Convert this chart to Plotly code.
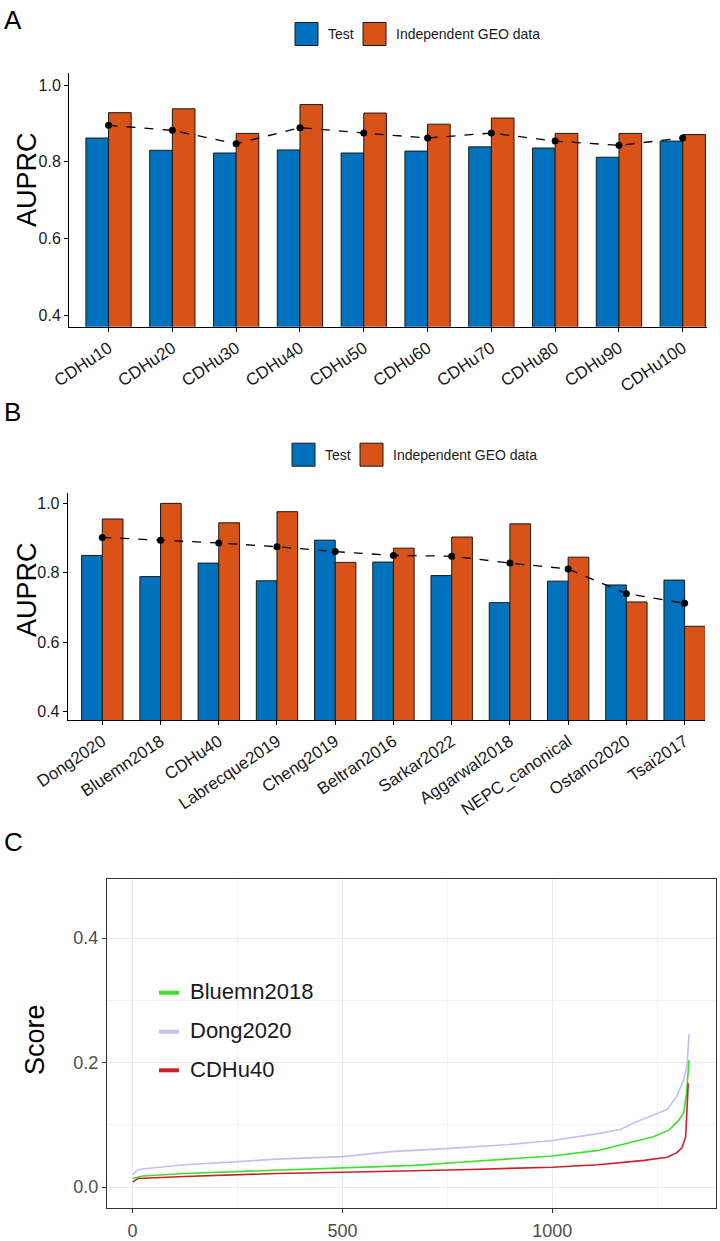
import plotly.graph_objects as go

W, H = 720, 1241

# ---- panel A data ----
cdhu_labels = ["CDHu10", "CDHu20", "CDHu30", "CDHu40", "CDHu50",
               "CDHu60", "CDHu70", "CDHu80", "CDHu90", "CDHu100"]
cdhu_test = [0.862, 0.830, 0.823, 0.831, 0.823, 0.828, 0.839, 0.836, 0.812, 0.854]
cdhu_geo = [0.928, 0.938, 0.874, 0.949, 0.927, 0.898, 0.914, 0.874, 0.874, 0.871]
cdhu_mean = [0.895, 0.882, 0.847, 0.889, 0.875, 0.862, 0.875, 0.854, 0.843, 0.862]

# ---- panel B data ----
sig_labels = ["Dong2020", "Bluemn2018", "CDHu40", "Labrecque2019", "Cheng2019",
              "Beltran2016", "Sarkar2022", "Aggarwal2018", "NEPC_canonical",
              "Ostano2020", "Tsai2017"]
sig_test = [0.850, 0.789, 0.828, 0.777, 0.894, 0.831, 0.792, 0.714, 0.776, 0.765, 0.779]
sig_geo = [0.955, 1.000, 0.944, 0.976, 0.830, 0.871, 0.903, 0.941, 0.845, 0.716, 0.646]
sig_mean = [0.902, 0.894, 0.886, 0.875, 0.861, 0.850, 0.848, 0.828, 0.811, 0.740, 0.712]

# ---- panel C data (sorted scores) ----
dong_rank = [0, 13, 35, 123, 254, 342, 500, 616, 726, 890, 1000, 1110, 1164,
             1197, 1241, 1274, 1296, 1313, 1321, 1326]
dong_score = [0.020, 0.028, 0.030, 0.036, 0.041, 0.045, 0.049, 0.057, 0.061, 0.068,
              0.075, 0.086, 0.093, 0.104, 0.116, 0.125, 0.145, 0.172, 0.194, 0.246]
bluemn_rank = [0, 24, 123, 342, 500, 671, 781, 890, 1000, 1110, 1197, 1241, 1279,
               1302, 1313, 1320, 1326]
bluemn_score = [0.014, 0.018, 0.022, 0.027, 0.030, 0.035, 0.040, 0.045, 0.050, 0.059,
                0.073, 0.081, 0.092, 0.108, 0.119, 0.151, 0.204]
cdhu40_rank = [0, 13, 123, 342, 500, 671, 781, 1000, 1110, 1219, 1274, 1296, 1309,
               1318, 1324]
cdhu40_score = [0.008, 0.014, 0.017, 0.022, 0.024, 0.026, 0.028, 0.032, 0.036, 0.043,
                0.048, 0.055, 0.063, 0.081, 0.167]

BLUE = "#0072BD"
ORANGE = "#D95319"
GREEN = "#3CE02A"
LAVENDER = "#C2C0F0"
RED = "#CF1F2C"
FONT = "Liberation Sans, Arial, sans-serif"


def px(x):
    return x / W


def py(y):
    return 1 - y / H


fig = go.Figure()

# panel A bars + mean line
fig.add_trace(go.Bar(x=cdhu_labels, y=cdhu_test, name="Test", marker_color=BLUE,
                     marker_line=dict(color="#1a1a1a", width=1), showlegend=False,
                     xaxis="x", yaxis="y"))
fig.add_trace(go.Bar(x=cdhu_labels, y=cdhu_geo, name="Independent GEO data",
                     marker_color=ORANGE, marker_line=dict(color="#1a1a1a", width=1),
                     showlegend=False, xaxis="x", yaxis="y"))
fig.add_trace(go.Scatter(x=cdhu_labels, y=cdhu_mean, mode="lines+markers",
                         line=dict(color="black", width=1.3, dash="dash"),
                         marker=dict(color="black", size=7), showlegend=False,
                         xaxis="x", yaxis="y"))

# panel B
fig.add_trace(go.Bar(x=sig_labels, y=sig_test, name="Test", marker_color=BLUE,
                     marker_line=dict(color="#1a1a1a", width=1), showlegend=False,
                     xaxis="x2", yaxis="y2"))
fig.add_trace(go.Bar(x=sig_labels, y=sig_geo, name="Independent GEO data",
                     marker_color=ORANGE, marker_line=dict(color="#1a1a1a", width=1),
                     showlegend=False, xaxis="x2", yaxis="y2"))
fig.add_trace(go.Scatter(x=sig_labels, y=sig_mean, mode="lines+markers",
                         line=dict(color="black", width=1.3, dash="dash"),
                         marker=dict(color="black", size=7), showlegend=False,
                         xaxis="x2", yaxis="y2"))

# panel C curves
fig.add_trace(go.Scatter(x=dong_rank, y=dong_score, mode="lines", name="Dong2020",
                         line=dict(color=LAVENDER, width=1.6), showlegend=False,
                         xaxis="x3", yaxis="y3"))
fig.add_trace(go.Scatter(x=bluemn_rank, y=bluemn_score, mode="lines", name="Bluemn2018",
                         line=dict(color=GREEN, width=1.6), showlegend=False,
                         xaxis="x3", yaxis="y3"))
fig.add_trace(go.Scatter(x=cdhu40_rank, y=cdhu40_score, mode="lines", name="CDHu40",
                         line=dict(color=RED, width=1.6), showlegend=False,
                         xaxis="x3", yaxis="y3"))

bar_x = dict(showline=True, linecolor="black", linewidth=1, ticks="outside",
             ticklen=4, tickcolor="black", tickangle=-34, showgrid=False,
             automargin=False, tickfont=dict(size=17, color="#1a1a1a"),
             zeroline=False)
bar_y = dict(showline=True, linecolor="black", linewidth=1, ticks="outside",
             ticklen=4, tickcolor="black", showgrid=False, zeroline=False,
             automargin=False, tickvals=[0.4, 0.6, 0.8, 1.0], tickformat=".1f",
             tickfont=dict(size=16, color="#1a1a1a"))
c_axis = dict(showline=True, mirror=True, linecolor="#333333", linewidth=1.2,
              ticks="outside", ticklen=4, tickcolor="#333333", showgrid=True,
              gridcolor="#EBEBEB", gridwidth=1, zeroline=False, automargin=False,
              tickfont=dict(size=18, color="#4D4D4D"))

fig.update_layout(
    width=W, height=H, margin=dict(l=0, r=0, t=0, b=0),
    plot_bgcolor="white", paper_bgcolor="white",
    font=dict(family=FONT, color="black"),
    barmode="group", bargap=0.29, bargroupgap=0,
    xaxis=dict(domain=[px(69), px(707)], range=[-0.62, 9.38], anchor="y", **bar_x),
    yaxis=dict(domain=[py(326.7), py(72.7)], range=[0.371, 1.032], anchor="x", **bar_y),
    xaxis2=dict(domain=[px(67.7), px(705)], range=[-0.594, 10.35], anchor="y2", **bar_x),
    yaxis2=dict(domain=[py(720), py(493.3)], range=[0.376, 1.029], anchor="x2", **bar_y),
    xaxis3=dict(domain=[px(107), px(715.5)], range=[-61, 1389], anchor="y3",
                tickvals=[0, 500, 1000], ticklabelstandoff=2,
                minor=dict(tickvals=[250, 750, 1250], showgrid=True,
                           gridcolor="#F3F3F3", gridwidth=0.8),
                **c_axis),
    yaxis3=dict(domain=[py(1208.3), py(879)], range=[-0.034, 0.495], anchor="x3",
                tickvals=[0.0, 0.2, 0.4], tickformat=".1f",
                minor=dict(tickvals=[0.1, 0.3], showgrid=True,
                           gridcolor="#F3F3F3", gridwidth=0.8),
                **c_axis),
)

annotations = []
shapes = []

# panel labels
for lab, yc in [("A", 20), ("B", 412), ("C", 842)]:
    annotations.append(dict(x=px(2), y=py(yc), xref="paper", yref="paper", text=lab,
                            showarrow=False, xanchor="left", yanchor="middle",
                            font=dict(size=26, color="black")))

# y axis titles
for txt, xc, yc in [("AUPRC", 27, 180), ("AUPRC", 27, 590), ("Score", 35, 1040)]:
    annotations.append(dict(x=px(xc), y=py(yc), xref="paper", yref="paper", text=txt,
                            textangle=-90, showarrow=False, xanchor="center",
                            yanchor="middle", font=dict(size=27, color="black")))

# bar legends (Test / Independent GEO data)
for yc, bx in [(34, 295), (454.7, 292)]:
    for off, col, txt in [(0, BLUE, "Test"), (68, ORANGE, "Independent GEO data")]:
        x0 = bx + off
        shapes.append(dict(type="rect", xref="paper", yref="paper",
                           x0=px(x0), x1=px(x0 + 23), y0=py(yc + 11.5), y1=py(yc - 11.5),
                           fillcolor=col, line=dict(color="#1a1a1a", width=1)))
        annotations.append(dict(x=px(x0 + 31), y=py(yc), xref="paper", yref="paper",
                                text=txt, showarrow=False, xanchor="left",
                                yanchor="middle", font=dict(size=14, color="#1a1a1a")))

# panel C legend
for yc, col, txt in [(991.7, GREEN, "Bluemn2018"), (1030.7, LAVENDER, "Dong2020"),
                     (1069.3, RED, "CDHu40")]:
    shapes.append(dict(type="line", xref="paper", yref="paper",
                       x0=px(159), x1=px(179), y0=py(yc + 1), y1=py(yc + 1),
                       line=dict(color=col, width=4)))
    annotations.append(dict(x=px(188), y=py(yc), xref="paper", yref="paper",
                            text=txt, showarrow=False, xanchor="left",
                            yanchor="middle", font=dict(size=22, color="#1a1a1a")))

fig.update_layout(annotations=annotations, shapes=shapes)

# drop the browser's default body margin so the figure sits at the page origin
fig.write_html("out.html", config={"displayModeBar": False},
               post_script="document.body.style.margin='0';")
